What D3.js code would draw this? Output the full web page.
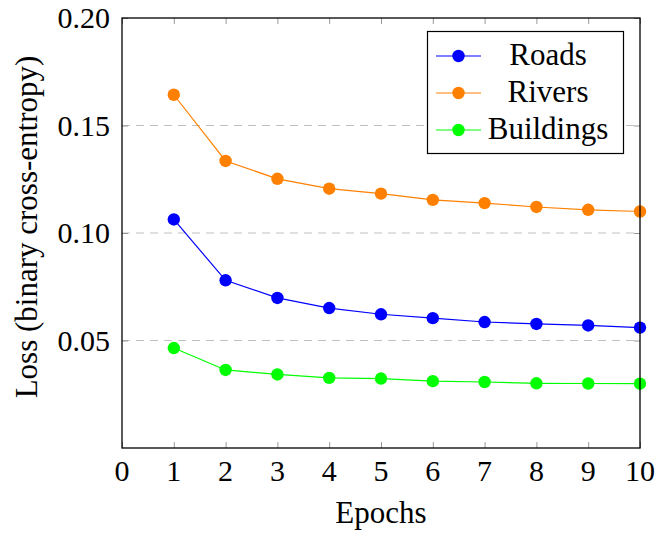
<!DOCTYPE html>
<html>
<head>
<meta charset="utf-8">
<script src="https://cdn.jsdelivr.net/npm/d3@7"></script>
<style>
  html, body { margin: 0; padding: 0; background: #fff; }
  svg { display: block; }
</style>
</head>
<body>
<svg id="chart" width="660" height="536"></svg>
<script>
// Training loss per epoch for each segmentation class
const epochs = [1, 2, 3, 4, 5, 6, 7, 8, 9, 10];
const roads = [0.1063, 0.0780, 0.0698, 0.0651, 0.0622, 0.0604, 0.0586, 0.0577, 0.0570, 0.0560];
const rivers = [0.1643, 0.1335, 0.1252, 0.1206, 0.1183, 0.1154, 0.1139, 0.1121, 0.1108, 0.1100];
const buildings = [0.0465, 0.0363, 0.0342, 0.0326, 0.0323, 0.0311, 0.0307, 0.0301, 0.0300, 0.0299];

const seriesNames = ["Roads", "Rivers", "Buildings"];
const seriesColors = ["#0000ff", "#ff8000", "#00ff00"];
const xTicks = [0, 1, 2, 3, 4, 5, 6, 7, 8, 9, 10];
const yTicks = [0.05, 0.10, 0.15, 0.20];
const yTickLabels = ["0.05", "0.10", "0.15", "0.20"];

const series = [roads, rivers, buildings].map((vals, i) => ({
  name: seriesNames[i],
  color: seriesColors[i],
  points: epochs.map((e, j) => ({ x: e, y: vals[j] }))
}));

const svg = d3.select("#chart");
const plot = { left: 122, right: 640, top: 18, bottom: 448 };

const x = d3.scaleLinear().domain([0, 10]).range([plot.left, plot.right]);
const y = d3.scaleLinear().domain([0, 0.2]).range([plot.bottom, plot.top]);

const serif = "'Liberation Serif', 'Times New Roman', serif";

// Dashed horizontal grid
svg.append("g")
  .selectAll("line")
  .data(yTicks.filter(t => t < 0.2))
  .join("line")
  .attr("x1", plot.left).attr("x2", plot.right)
  .attr("y1", d => y(d)).attr("y2", d => y(d))
  .attr("stroke", "#c0c0c0")
  .attr("stroke-width", 1.2)
  .attr("stroke-dasharray", "8,6");

// Inward tick marks on all four sides
const tickLen = 6;
const axisBottom = d3.axisBottom(x).tickValues(xTicks).tickSize(-tickLen).tickFormat("");
const axisTop = d3.axisTop(x).tickValues(xTicks).tickSize(-tickLen).tickFormat("");
const axisLeft = d3.axisLeft(y).tickValues(yTicks).tickSize(-tickLen).tickFormat("");
const axisRight = d3.axisRight(y).tickValues(yTicks).tickSize(-tickLen).tickFormat("");

function styleTicks(g) {
  g.select(".domain").remove();
  g.selectAll(".tick line").attr("stroke", "#999").attr("stroke-width", 1);
}
svg.append("g").attr("transform", `translate(0,${plot.bottom})`).call(axisBottom).call(styleTicks);
svg.append("g").attr("transform", `translate(0,${plot.top})`).call(axisTop).call(styleTicks);
svg.append("g").attr("transform", `translate(${plot.left},0)`).call(axisLeft).call(styleTicks);
svg.append("g").attr("transform", `translate(${plot.right},0)`).call(axisRight).call(styleTicks);

// Tick labels
svg.append("g")
  .selectAll("text")
  .data(xTicks)
  .join("text")
  .attr("x", d => x(d))
  .attr("y", 481)
  .attr("text-anchor", "middle")
  .attr("font-family", serif)
  .attr("font-size", 30)
  .attr("fill", "#000")
  .text(d => d);

svg.append("g")
  .selectAll("text")
  .data(yTicks)
  .join("text")
  .attr("x", 110)
  .attr("y", d => y(d) + 10)
  .attr("text-anchor", "end")
  .attr("font-family", serif)
  .attr("font-size", 30)
  .attr("fill", "#000")
  .text((d, i) => yTickLabels[i]);

// Axis titles
svg.append("text")
  .attr("x", x(5))
  .attr("y", 523)
  .attr("text-anchor", "middle")
  .attr("font-family", serif)
  .attr("font-size", 31)
  .text("Epochs");

svg.append("text")
  .attr("transform", "translate(37,227) rotate(-90)")
  .attr("text-anchor", "middle")
  .attr("font-family", serif)
  .attr("font-size", 31)
  .text("Loss (binary cross-entropy)");

// Lines and markers
const line = d3.line().x(d => x(d.x)).y(d => y(d.y));
const sg = svg.append("g").selectAll("g").data(series).join("g");
sg.append("path")
  .attr("d", d => line(d.points))
  .attr("fill", "none")
  .attr("stroke", d => d.color)
  .attr("stroke-width", 1.2);
sg.selectAll("circle")
  .data(d => d.points.map(p => ({ ...p, color: d.color })))
  .join("circle")
  .attr("cx", d => x(d.x))
  .attr("cy", d => y(d.y))
  .attr("r", 6.2)
  .attr("fill", d => d.color);

// Plot frame
svg.append("rect")
  .attr("x", plot.left).attr("y", plot.top)
  .attr("width", plot.right - plot.left).attr("height", plot.bottom - plot.top)
  .attr("fill", "none")
  .attr("stroke", "#000")
  .attr("stroke-width", 1.3);

// Legend
const lg = svg.append("g");
lg.append("rect")
  .attr("x", 427.5).attr("y", 31.5)
  .attr("width", 196).attr("height", 122)
  .attr("fill", "#fff")
  .attr("stroke", "#000")
  .attr("stroke-width", 1.2);
const entry = lg.selectAll("g").data(series).join("g")
  .attr("transform", (d, i) => `translate(0,${56 + i * 37})`);
entry.append("line")
  .attr("x1", 436).attr("x2", 481)
  .attr("stroke", d => d.color).attr("stroke-width", 1.2);
entry.append("circle")
  .attr("cx", 458.5).attr("r", 6.2)
  .attr("fill", d => d.color);
entry.append("text")
  .attr("x", 548)
  .attr("y", 9)
  .attr("text-anchor", "middle")
  .attr("font-family", serif)
  .attr("font-size", 31)
  .text(d => d.name);
</script>
</body>
</html>
